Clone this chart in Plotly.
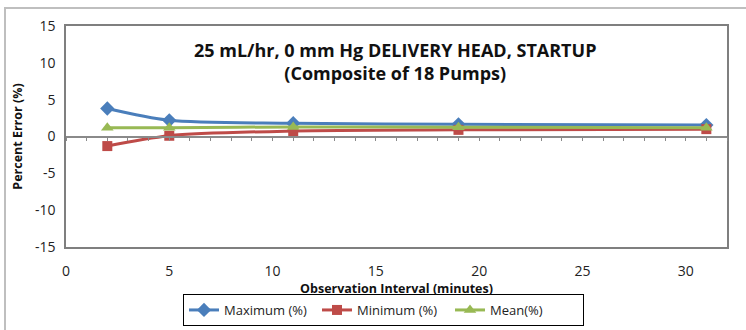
import plotly.graph_objects as go

# Observation intervals (minutes) and percent error statistics
intervals = [2, 5, 11, 19, 31]
maximum_pct = [3.8, 2.2, 1.8, 1.65, 1.55]
minimum_pct = [-1.3, 0.1, 0.75, 0.9, 1.0]
mean_pct = [1.2, 1.2, 1.3, 1.25, 1.2]

x_ticks = [0, 5, 10, 15, 20, 25, 30]
y_ticks = [-15, -10, -5, 0, 5, 10, 15]
y_tick_text = [str(v) for v in y_ticks]

FONT = "Open Sans"
W, H = 746, 330
L, R, T, B = 66, 19, 26, 83
PW, PH = W - L - R, H - T - B

fig = go.Figure()

series = [
    ("Maximum (%)", maximum_pct, "#4A7EBB", "diamond", 11),
    ("Minimum (%)", minimum_pct, "#BE4B48", "square", 10),
    ("Mean(%)", mean_pct, "#98B954", "triangle-up", 11),
]
for name, vals, color, sym, size in series:
    fig.add_trace(go.Scatter(
        x=intervals, y=vals, name=name, mode="lines+markers",
        line=dict(color=color, width=3, shape="spline", smoothing=0.8),
        marker=dict(symbol=sym, size=size, color=color),
    ))

# invisible trace that carries the zero-line axis
fig.add_trace(go.Scatter(x=[0, 32], y=[0, 0], xaxis="x2", mode="lines",
                         line=dict(width=0), showlegend=False, hoverinfo="skip"))

fig.update_layout(
    width=W, height=H,
    margin=dict(l=L, r=R, t=T, b=B, autoexpand=False),
    paper_bgcolor="white", plot_bgcolor="white",
    font=dict(family=FONT, size=13, color="#222"),
    xaxis=dict(
        range=[0, 32], tickvals=x_ticks, showgrid=False, zeroline=False,
        showline=True, linecolor="#7f7f7f", linewidth=1.5, mirror=True,
        ticks="", ticklen=0, tickwidth=0, ticklabelstandoff=10,
        tickfont=dict(size=14, color="#222"),
        title=dict(text="<b>Observation Interval (minutes)</b>",
                   font=dict(size=12.5, color="#111"), standoff=6),
    ),
    xaxis2=dict(
        range=[0, 32], overlaying="x", anchor="free", position=0.5,
        showgrid=False, zeroline=False, showline=True, linecolor="#8a8a8a",
        linewidth=1.5, ticks="outside", dtick=1, tick0=0, ticklen=4,
        tickcolor="#8a8a8a", showticklabels=False,
    ),
    yaxis=dict(
        range=[-15, 15], tickvals=y_ticks, ticktext=y_tick_text,
        showgrid=False, zeroline=False,
        showline=True, linecolor="#7f7f7f", linewidth=1.5, mirror=True,
        ticks="", ticklen=0, tickwidth=0, ticklabelstandoff=6,
        tickfont=dict(size=14, color="#222"),
        title=dict(text="<b>Percent Error (%)</b>",
                   font=dict(size=12.5, color="#111"), standoff=10),
    ),
    legend=dict(
        orientation="h", x=(183 - L) / PW, y=(247 - 294) / PH,
        xanchor="left", yanchor="top", bordercolor="#000", borderwidth=1,
        font=dict(size=13, color="#222"), itemwidth=30, tracegroupgap=0,
        entrywidth=88, entrywidthmode="pixels",
    ),
    showlegend=True,
)

fig.add_annotation(
    text="<b>25 mL/hr, 0 mm Hg DELIVERY HEAD, STARTUP<br>(Composite of 18 Pumps)</b>",
    xref="paper", yref="paper", x=(395 - L) / PW, y=(247 - 61) / PH,
    showarrow=False, font=dict(family=FONT, size=18, color="#111"),
    align="center", xanchor="center", yanchor="middle",
)

# outer chart frame
fig.add_shape(
    type="rect", xref="paper", yref="paper",
    x0=(5 - L) / PW, x1=(770 - L) / PW,
    y0=(247 - 350) / PH, y1=(247 - 8) / PH,
    line=dict(color="#bfbfbf", width=2), layer="below",
)

fig.write_html("out.html")
